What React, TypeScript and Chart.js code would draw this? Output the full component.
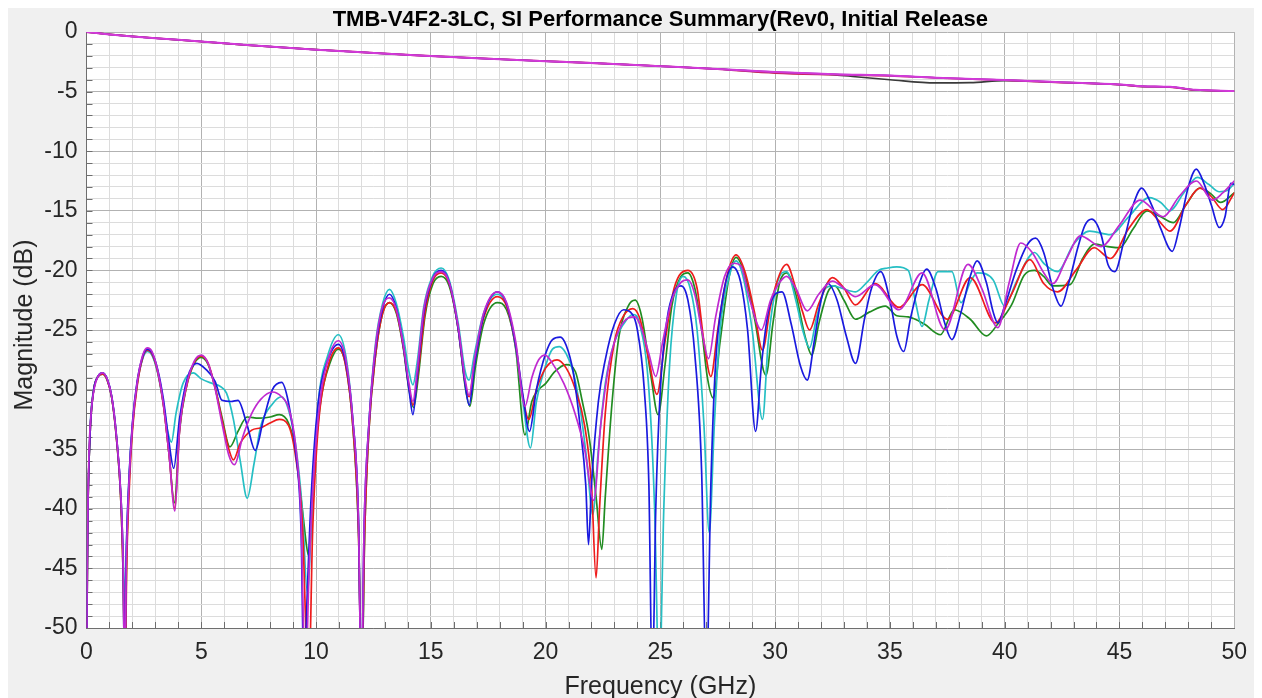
import React, { useEffect, useRef } from "react";
import { Chart, registerables } from "chart.js";
Chart.register(...registerables);

const TITLE = "TMB-V4F2-3LC, SI Performance Summary(Rev0, Initial Release";
const X_LABEL = "Frequency (GHz)";
const Y_LABEL = "Magnitude (dB)";
const X_RANGE = [0, 50];
const Y_RANGE = [-50, 0];
const MAJOR_STEP = 5;

// Insertion loss traces [GHz, dB]
const ilMagenta = [[0,0],[1,-0.2],[2,-0.37],[3,-0.52],[5,-0.8],[7,-1.1],[10,-1.48],[12,-1.7],[14.3,-1.95],[17,-2.2],[20,-2.45],[22,-2.6],[25,-2.87],[27.5,-3.1],[30,-3.35],[32.6,-3.55],[35,-3.65],[37,-3.83],[40,-4.02],[42,-4.18],[45,-4.4],[46,-4.55],[47.2,-4.6],[48.3,-4.85],[50,-4.95]];
const ilBlack = [[0,0],[1,-0.2],[2,-0.37],[3,-0.52],[5,-0.8],[7,-1.1],[10,-1.48],[12,-1.7],[14.3,-1.95],[17,-2.2],[20,-2.45],[22,-2.6],[25,-2.87],[27.5,-3.1],[30,-3.4],[32.6,-3.6],[33.5,-3.75],[35,-4.0],[37,-4.27],[38.5,-4.25],[40,-4.08],[42,-4.2],[45,-4.42],[46,-4.58],[47.2,-4.62],[48.3,-4.87],[50,-4.97]];
const ilRed = [[0,0],[1,-0.2],[2,-0.37],[3,-0.52],[5,-0.8],[7,-1.1],[10,-1.48],[12,-1.7],[14.3,-1.95],[17,-2.2],[20,-2.45],[22,-2.6],[25,-2.87],[27.5,-3.12],[30,-3.45],[32.6,-3.58],[35,-3.68],[37,-3.85],[40,-4.04],[42,-4.2],[45,-4.42],[46,-4.57],[47.2,-4.62],[48.3,-4.86],[50,-4.96]];

// Return loss traces [GHz, dB]
const rlBlue = [[0,-55],[0.05,-42],[0.15,-34],[0.3,-30.2],[0.5,-28.9],[0.7,-28.6],[0.9,-29.1],[1.1,-30.6],[1.3,-33.8],[1.5,-39],[1.6,-45],[1.66,-55],[1.72,-45],[1.85,-37.5],[2.0,-32.8],[2.2,-29.4],[2.45,-27.2],[2.65,-26.6],[2.85,-26.9],[3.1,-28.3],[3.35,-30.8],[3.6,-34.5],[3.8,-36.6],[4.05,-32.5],[4.4,-29],[4.8,-27.8],[5.2,-28.3],[5.6,-29.3],[5.9,-30.9],[6.3,-31],[6.6,-30.9],[7.0,-33],[7.35,-35.1],[7.7,-32.6],[8.1,-30],[8.5,-29.4],[8.8,-31.1],[9.1,-35],[9.35,-42],[9.48,-55],[9.6,-48],[9.8,-38.5],[10.1,-31],[10.5,-27.6],[10.97,-26.2],[11.3,-27.8],[11.6,-32.5],[11.85,-41],[11.97,-55],[12.1,-41],[12.3,-33],[12.6,-26.5],[12.9,-23.2],[13.2,-22.0],[13.5,-23.2],[13.8,-26.3],[14.05,-30],[14.22,-32.1],[14.4,-29],[14.7,-23.5],[15.1,-20.6],[15.45,-20.0],[15.8,-21],[16.2,-25],[16.5,-29.6],[16.67,-31.3],[16.9,-28],[17.3,-23.8],[17.9,-21.8],[18.3,-22.8],[18.7,-26.3],[19.0,-30.3],[19.3,-33.5],[19.6,-30],[20.0,-27],[20.3,-25.8],[20.64,-25.6],[20.9,-26.3],[21.2,-28.5],[21.5,-33],[21.75,-38],[21.87,-43],[22.0,-38],[22.3,-31],[22.6,-27.5],[23.0,-24.5],[23.4,-23.3],[23.7,-23.5],[24.0,-25],[24.3,-30],[24.5,-38],[24.65,-55],[24.8,-40],[25.0,-30],[25.3,-24],[25.6,-21.8],[25.9,-21.3],[26.2,-22.5],[26.5,-27],[26.8,-37],[27.0,-55],[27.2,-38],[27.4,-28],[27.7,-22.5],[28.15,-19.7],[28.5,-21],[28.8,-25],[29.15,-33.5],[29.4,-28],[29.7,-23.5],[30.0,-22],[30.3,-21.8],[30.7,-24.5],[31.1,-28],[31.4,-29.2],[31.7,-26],[32.0,-22.5],[32.3,-21.1],[32.7,-22.5],[33.1,-25.5],[33.5,-27.8],[33.9,-24],[34.2,-21.5],[34.6,-20.1],[35.0,-22.5],[35.3,-25.5],[35.6,-26.8],[35.9,-24],[36.3,-21],[36.6,-19.9],[37.0,-21.5],[37.4,-24.5],[37.7,-25.8],[38.1,-23.5],[38.5,-20.5],[38.8,-19.2],[39.2,-21],[39.5,-23.5],[39.7,-24.4],[40.0,-23],[40.5,-20],[41.0,-17.8],[41.35,-17.3],[41.7,-18.5],[42.1,-21.5],[42.45,-23.0],[42.8,-21],[43.2,-18],[43.5,-16.2],[43.8,-15.7],[44.2,-17.0],[44.5,-19.5],[44.8,-20.1],[45.2,-17.5],[45.6,-14.5],[45.97,-13.1],[46.4,-14.5],[46.8,-16.5],[47.3,-18.4],[47.6,-16.5],[48.0,-13.0],[48.35,-11.5],[48.7,-12.8],[49.0,-14.5],[49.35,-16.4],[49.6,-15.5],[49.85,-12.7],[50,-12.8]];
const rlCyan = [[0,-49],[0.05,-41],[0.15,-33.5],[0.3,-30.1],[0.5,-28.9],[0.7,-28.6],[0.9,-29.1],[1.1,-30.6],[1.3,-33.8],[1.5,-39],[1.6,-44],[1.67,-48],[1.74,-43],[1.85,-37.5],[2.0,-33],[2.2,-29.6],[2.45,-27.4],[2.65,-26.8],[2.85,-27.1],[3.1,-28.6],[3.35,-31.2],[3.55,-33.6],[3.7,-34.4],[3.9,-32],[4.2,-29.5],[4.65,-28.6],[5.0,-29.1],[5.5,-29.5],[5.8,-29.7],[6.1,-30.3],[6.4,-32.5],[6.7,-36],[7.0,-39.1],[7.3,-36.2],[7.6,-33],[8.1,-31.2],[8.5,-30.6],[8.8,-31.7],[9.1,-34.5],[9.4,-40],[9.62,-47],[9.85,-39],[10.1,-31],[10.5,-27.2],[10.97,-25.4],[11.3,-27.2],[11.6,-32.5],[11.85,-41],[11.98,-55],[12.12,-41],[12.3,-33],[12.6,-26],[12.9,-22.8],[13.2,-21.6],[13.5,-22.8],[13.8,-25.5],[14.05,-28.5],[14.22,-29.6],[14.4,-27.8],[14.7,-23],[15.1,-20.4],[15.45,-19.8],[15.8,-20.8],[16.2,-24.5],[16.5,-28.5],[16.67,-29.2],[16.9,-27],[17.3,-23.6],[17.9,-22.0],[18.3,-22.9],[18.7,-26.5],[19.0,-30.8],[19.34,-34.9],[19.6,-31],[20.0,-28],[20.3,-26.6],[20.6,-26.4],[20.9,-27],[21.2,-28.5],[21.5,-31.5],[21.8,-36],[22.05,-40.5],[22.3,-35],[22.6,-29.5],[23.0,-26],[23.4,-24.5],[23.8,-23.7],[24.1,-24.5],[24.5,-30],[24.75,-40],[24.95,-55],[25.15,-40],[25.4,-28],[25.7,-22],[26.0,-20.5],[26.3,-21.5],[26.6,-25],[26.9,-33],[27.13,-42.0],[27.35,-33],[27.6,-25],[28.0,-20.5],[28.3,-19.2],[28.6,-20.5],[29.0,-25],[29.45,-32.5],[29.7,-26],[30.1,-21],[30.5,-20.1],[30.9,-22.5],[31.2,-25],[31.5,-26.5],[31.8,-24],[32.2,-21.5],[32.5,-21.3],[32.9,-21.5],[33.5,-21.8],[34.0,-21],[34.5,-20],[34.9,-19.8],[35.3,-19.7],[35.8,-20],[36.1,-22.5],[36.4,-24.7],[36.7,-22.5],[37.1,-20.1],[37.7,-20.1],[38.1,-22.7],[38.5,-21],[38.8,-20.2],[39.5,-20.8],[40.0,-23],[40.5,-21],[41.3,-18.5],[41.7,-19.4],[42.3,-20.1],[43.0,-17.8],[43.7,-16.7],[44.6,-17.0],[45.4,-15.5],[46.3,-13.9],[46.8,-14.3],[47.2,-15.0],[47.8,-13.5],[48.4,-12.2],[48.9,-12.8],[49.35,-13.4],[49.7,-13.3],[50,-12.7]];
const rlGreen = [[0,-55],[0.05,-42],[0.15,-34],[0.3,-30.2],[0.5,-28.9],[0.7,-28.7],[0.9,-29.2],[1.1,-30.7],[1.3,-34],[1.5,-39.5],[1.6,-46],[1.67,-55],[1.74,-45],[1.85,-38],[2.0,-33.2],[2.2,-29.6],[2.45,-27.3],[2.65,-26.7],[2.85,-27],[3.1,-28.5],[3.35,-31.2],[3.6,-35.5],[3.83,-39.5],[4.05,-33.5],[4.35,-29.8],[4.7,-27.8],[5.0,-27.3],[5.3,-27.9],[5.6,-29.8],[5.9,-32.3],[6.25,-34.8],[6.6,-33.5],[7.0,-32.3],[7.5,-32.4],[8.0,-32.3],[8.4,-32.1],[8.8,-32.8],[9.1,-35],[9.4,-40],[9.7,-44],[9.9,-37],[10.2,-31],[10.6,-27.8],[10.97,-26.6],[11.3,-28],[11.6,-33],[11.85,-42],[11.99,-55],[12.12,-42],[12.3,-33.5],[12.6,-27],[12.9,-23.6],[13.2,-22.7],[13.5,-23.6],[13.8,-26.5],[14.05,-30],[14.25,-31.5],[14.45,-29],[14.75,-23.8],[15.1,-21.1],[15.45,-20.5],[15.8,-21.3],[16.2,-25],[16.5,-29.8],[16.7,-31.4],[16.95,-28],[17.3,-24.5],[17.9,-22.7],[18.3,-23.3],[18.7,-26.6],[19.1,-33.8],[19.4,-31],[19.7,-30],[20.0,-29.5],[20.4,-28.5],[20.9,-27.9],[21.3,-28.5],[21.6,-31],[21.9,-34],[22.2,-39],[22.45,-43.4],[22.6,-39],[22.9,-31],[23.2,-25.5],[23.6,-23.0],[23.9,-22.5],[24.2,-24],[24.6,-29],[24.9,-32.1],[25.2,-28],[25.5,-23],[25.9,-20.5],[26.2,-20.2],[26.5,-21.5],[26.8,-25],[27.05,-29],[27.3,-30.7],[27.6,-26],[28.0,-20.5],[28.3,-18.9],[28.7,-20.5],[29.1,-24],[29.6,-28.8],[29.9,-24.5],[30.2,-21],[30.5,-20.2],[30.9,-22],[31.3,-25.5],[31.6,-27.1],[31.9,-24.5],[32.3,-21.8],[32.6,-21.3],[33.0,-22.5],[33.5,-24.1],[34.1,-23.5],[34.8,-23.0],[35.3,-23.8],[35.8,-23.9],[36.5,-24.5],[37.2,-25.4],[37.8,-23.3],[38.5,-24.1],[39.2,-25.5],[39.7,-24.5],[40.3,-22.9],[40.85,-20.4],[41.3,-20.0],[41.7,-20.5],[42.1,-21.3],[42.85,-21.2],[43.4,-19],[43.9,-17.8],[44.5,-18.0],[45.0,-18.1],[45.6,-16.5],[46.2,-15.0],[46.8,-15.5],[47.35,-16.0],[47.9,-14.5],[48.5,-13.1],[49.0,-13.6],[49.4,-14.3],[50,-13.5]];
const rlRed = [[0,-55],[0.05,-42],[0.15,-34],[0.3,-30.2],[0.5,-28.9],[0.7,-28.7],[0.9,-29.2],[1.1,-30.7],[1.3,-34],[1.5,-39.5],[1.6,-46],[1.68,-55],[1.75,-45],[1.87,-38],[2.0,-33.5],[2.2,-29.8],[2.45,-27.3],[2.65,-26.7],[2.85,-27],[3.1,-28.5],[3.35,-31.3],[3.6,-35.5],[3.85,-40],[4.05,-33.5],[4.35,-29.8],[4.7,-27.7],[5.0,-27.2],[5.3,-27.8],[5.6,-29.8],[5.9,-32.5],[6.2,-35],[6.4,-35.9],[6.7,-34.5],[7.2,-33.4],[7.6,-33.2],[8.0,-32.8],[8.4,-32.5],[8.8,-33],[9.1,-35.5],[9.4,-41],[9.68,-55],[9.85,-42],[10.1,-33],[10.5,-28.2],[10.97,-26.5],[11.3,-28.1],[11.6,-33],[11.85,-42],[11.98,-55],[12.12,-42],[12.3,-33.5],[12.6,-27],[12.9,-23.6],[13.2,-22.7],[13.5,-23.5],[13.8,-26.4],[14.05,-29.8],[14.22,-31.3],[14.45,-28.5],[14.75,-23.5],[15.1,-20.8],[15.45,-20.2],[15.8,-21.1],[16.2,-25],[16.5,-29.5],[16.67,-30.6],[16.9,-27.8],[17.3,-24],[17.9,-22.2],[18.3,-23],[18.7,-26.4],[19.0,-30.5],[19.27,-32.5],[19.6,-30],[20.0,-28.2],[20.5,-27.5],[20.9,-28.2],[21.3,-30],[21.7,-33],[22.0,-38],[22.2,-45.8],[22.35,-40],[22.6,-32],[23.0,-26],[23.4,-23.8],[23.8,-23.2],[24.1,-24],[24.5,-27.5],[24.85,-30.4],[25.2,-26],[25.6,-21.5],[26.2,-20.0],[26.6,-21.5],[26.9,-26],[27.2,-28.9],[27.5,-25],[27.9,-20.5],[28.3,-18.7],[28.7,-20.2],[29.1,-23.5],[29.45,-26.7],[29.8,-23],[30.2,-20.3],[30.5,-19.5],[30.9,-21.5],[31.2,-23.5],[31.5,-25.0],[31.9,-22.8],[32.5,-20.6],[33.0,-21.5],[33.5,-22.9],[34.35,-21.1],[35.4,-23.1],[36.4,-21.2],[37.5,-24.1],[38.5,-20.6],[39.6,-24.4],[40.3,-22],[41.1,-19.1],[41.7,-21.1],[42.3,-21.8],[43.1,-20],[43.9,-18.1],[44.6,-19.0],[45.4,-16.5],[46.2,-14.9],[46.7,-15.8],[47.2,-16.7],[47.9,-14.5],[48.5,-13.1],[49.0,-13.8],[49.5,-14.9],[50,-13.5]];
const rlMagenta = [[0,-55],[0.03,-45],[0.1,-36],[0.2,-32],[0.35,-29.8],[0.5,-28.9],[0.7,-28.6],[0.9,-29.1],[1.1,-30.6],[1.3,-33.8],[1.5,-39],[1.6,-45],[1.66,-55],[1.73,-45],[1.85,-37.8],[2.0,-33],[2.2,-29.5],[2.45,-27.1],[2.65,-26.5],[2.85,-26.8],[3.1,-28.4],[3.35,-31.2],[3.6,-35.5],[3.85,-40.2],[4.05,-33.5],[4.35,-29.7],[4.7,-27.6],[5.0,-27.1],[5.3,-27.8],[5.6,-29.9],[5.9,-32.8],[6.2,-35.5],[6.45,-36.3],[6.8,-34],[7.2,-32],[7.6,-30.8],[8.1,-30.2],[8.5,-30.6],[8.8,-31.5],[9.1,-34.5],[9.35,-41],[9.53,-55],[9.7,-45],[9.9,-37],[10.2,-30.5],[10.6,-27],[10.97,-25.9],[11.3,-27.5],[11.6,-32.5],[11.85,-41],[11.97,-55],[12.1,-41],[12.3,-33],[12.6,-26.2],[12.9,-23],[13.2,-22.3],[13.5,-23.3],[13.8,-26.2],[14.05,-29.5],[14.22,-31.0],[14.4,-28.5],[14.7,-23.2],[15.1,-20.6],[15.45,-20.1],[15.8,-21],[16.2,-24.8],[16.5,-29.2],[16.67,-30.5],[16.9,-27.5],[17.3,-23.6],[17.9,-21.8],[18.3,-22.7],[18.7,-26],[19.1,-31.4],[19.4,-29],[19.7,-27.5],[19.98,-27.1],[20.3,-27.8],[20.8,-29.5],[21.3,-32.1],[21.7,-35],[22.1,-39.3],[22.4,-33],[22.8,-27.5],[23.2,-25],[23.6,-24],[23.9,-23.9],[24.2,-25],[24.5,-27],[24.8,-28.9],[25.1,-26],[25.5,-22.5],[25.9,-21],[26.2,-20.8],[26.5,-22],[26.8,-25],[27.1,-27.4],[27.4,-24],[27.8,-20.5],[28.2,-19.4],[28.5,-19.6],[28.9,-22.5],[29.4,-25.0],[29.8,-22.5],[30.2,-21],[30.5,-20.5],[30.9,-21.5],[31.4,-23.4],[31.9,-22.0],[32.5,-20.9],[33.0,-21.5],[33.5,-22.2],[34.35,-21.2],[35.4,-23.3],[36.4,-20.2],[37.4,-25.0],[38.4,-19.5],[39.0,-21.5],[39.7,-24.8],[40.2,-21],[40.7,-17.7],[41.2,-18.5],[41.7,-20.2],[42.1,-21.1],[42.7,-19],[43.3,-17.1],[44.2,-18.0],[45.0,-16.2],[45.9,-14.1],[46.9,-15.5],[47.6,-13.8],[48.35,-12.5],[49.05,-14.1],[49.5,-13.5],[50,-12.5]];

const FONT = '"Liberation Sans", Arial, sans-serif';
const TEXT_COLOR = "#262626";

export default function App() {
  const ref = useRef<HTMLCanvasElement>(null);
  useEffect(() => {
    const pts = (arr: number[][]) => arr.map(([x, y]) => ({ x, y }));
    const ds = (label: string, arr: number[][], color: string, width: number) => ({
      label, data: pts(arr), borderColor: color, backgroundColor: color,
      borderWidth: width, pointRadius: 0, cubicInterpolationMode: "monotone", fill: false,
      borderJoinStyle: "round", borderCapStyle: "round",
    });
    const decor = {
      id: "decor",
      beforeDraw(chart: any) {
        const { ctx, chartArea: a } = chart;
        ctx.save();
        ctx.fillStyle = "#ffffff";
        ctx.fillRect(a.left, a.top, a.right - a.left, a.bottom - a.top);
        ctx.restore();
      },
      beforeDatasetsDraw(chart: any) {
        const { ctx, chartArea: a, scales } = chart;
        ctx.save();
        ctx.strokeStyle = "#6e6e6e";
        ctx.lineWidth = 1;
        ctx.beginPath();
        for (let v = X_RANGE[0] + 1; v < X_RANGE[1]; v++) {
          const px = Math.round(scales.x.getPixelForValue(v)) + 0.5;
          ctx.moveTo(px, a.bottom);
          ctx.lineTo(px, a.bottom - 6);
        }
        for (let v = Y_RANGE[0] + 1; v < Y_RANGE[1]; v++) {
          const py = Math.round(scales.y.getPixelForValue(v)) + 0.5;
          ctx.moveTo(a.left, py);
          ctx.lineTo(a.left + 6, py);
        }
        ctx.stroke();
        ctx.restore();
      },
      afterDraw(chart: any) {
        const { ctx, chartArea: a } = chart;
        ctx.save();
        ctx.fillStyle = "#000000";
        ctx.textAlign = "center";
        ctx.textBaseline = "alphabetic";
        ctx.font = `bold 22px ${FONT}`;
        ctx.fillText(TITLE, (a.left + a.right) / 2, 18);
        ctx.fillStyle = TEXT_COLOR;
        ctx.font = `25px ${FONT}`;
        ctx.fillText(X_LABEL, (a.left + a.right) / 2, 686);
        ctx.translate(24, 317);
        ctx.rotate(-Math.PI / 2);
        ctx.fillText(Y_LABEL, 0, 0);
        ctx.restore();
      },
    };
    const gridColor = (c: any) =>
      Math.abs(c.tick.value) % MAJOR_STEP === 0 ? "#b2b2b2" : "#dcdcdc";
    const chart = new Chart(ref.current as HTMLCanvasElement, {
      type: "line",
      data: {
        datasets: [
          ds("IL magenta", ilMagenta, "#d23ad8", 2),
          ds("IL blue", ilMagenta, "#7a2fc0", 1.5),
          ds("IL red", ilRed, "#c8205a", 1.8),
          ds("IL black", ilBlack, "#3a3a3a", 1.6),
          ds("RL magenta", rlMagenta, "#c02ad0", 1.7),
          ds("RL blue", rlBlue, "#1a1adf", 1.7),
          ds("RL red", rlRed, "#ee1c1c", 1.7),
          ds("RL cyan", rlCyan, "#26bfc4", 1.7),
          ds("RL green", rlGreen, "#218c21", 1.7),
        ] as any,
      },
      options: {
        animation: false,
        responsive: false,
        devicePixelRatio: 1,
        layout: { padding: { top: 24, right: 17, left: 0, bottom: 0 } },
        plugins: {
          legend: { display: false },
          title: { display: false },
          tooltip: { enabled: false },
        },
        scales: {
          x: {
            type: "linear",
            min: X_RANGE[0],
            max: X_RANGE[1],
            afterFit: (s: any) => { s.height = 70; },
            ticks: {
              stepSize: 1,
              autoSkip: false,
              maxRotation: 0,
              padding: 11,
              color: TEXT_COLOR,
              font: { family: FONT, size: 23 },
              callback: (v: any) => (Number(v) % MAJOR_STEP === 0 ? String(v) : ""),
            },
            grid: { color: gridColor, drawTicks: false, lineWidth: 1 },
            border: { color: "#6e6e6e" },
          },
          y: {
            type: "linear",
            min: Y_RANGE[0],
            max: Y_RANGE[1],
            afterFit: (s: any) => { s.width = 78.5; },
            ticks: {
              stepSize: 1,
              autoSkip: false,
              padding: 9,
              color: TEXT_COLOR,
              font: { family: FONT, size: 23 },
              callback: (v: any) => (Number(v) % MAJOR_STEP === 0 ? String(v) : ""),
            },
            grid: { color: gridColor, drawTicks: false, lineWidth: 1 },
            border: { color: "#6e6e6e" },
          },
        },
      } as any,
      plugins: [decor],
    });
    return () => chart.destroy();
  }, []);
  return (
    <div style={{ width: 1250, height: 690, background: "#f0f0f0" }}>
      <canvas ref={ref} width={1250} height={690} style={{ display: "block" }} />
    </div>
  );
}
